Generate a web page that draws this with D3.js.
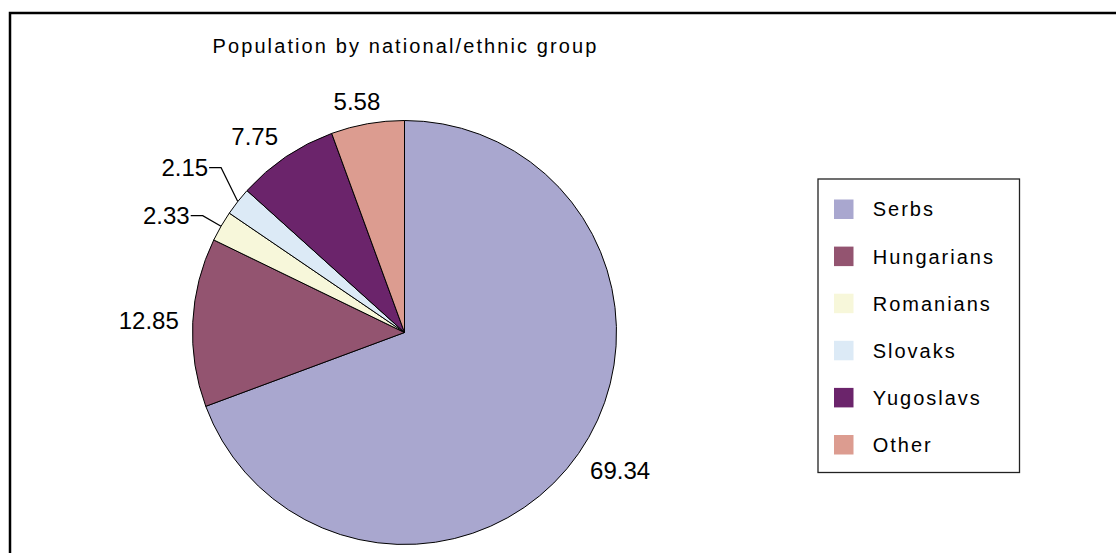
<!DOCTYPE html>
<html>
<head>
<meta charset="utf-8">
<script src="https://cdn.jsdelivr.net/npm/d3@7"></script>
<style>
  body { margin: 0; background: #fff; }
  text { font-family: Arial, "Liberation Sans", sans-serif; fill: #000; }
</style>
</head>
<body>
<svg id="chart" width="1116" height="553"></svg>
<script>
// Chart data
const title = "Population by national/ethnic group";
const groups = ["Serbs", "Hungarians", "Romanians", "Slovaks", "Yugoslavs", "Other"];
const shares = [69.34, 12.85, 2.33, 2.15, 7.75, 5.58];
const colors = ["#a9a7cf", "#935470", "#f7f7da", "#dceaf6", "#6b246b", "#dc9c90"];

const width = 1116;
const height = 553;
const cx = 404.5;
const cy = 332.5;
const radius = 212;

const svg = d3.select("#chart");

// outer frame (runs off the right and bottom of the picture)
svg.append("rect")
  .attr("x", 10).attr("y", 13)
  .attr("width", width + 20).attr("height", height + 20)
  .attr("fill", "none")
  .attr("stroke", "#000")
  .attr("stroke-width", 2.5);

// title, centred over the pie
svg.append("text")
  .attr("x", cx + 1)
  .attr("y", 53)
  .attr("text-anchor", "middle")
  .attr("font-size", 20)
  .attr("letter-spacing", 2.1)
  .text(title);

const data = groups.map((g, i) => ({ name: g, value: shares[i], color: colors[i] }));

const pie = d3.pie().sort(null).value((d) => d.value);
const arcs = pie(data);
const arc = d3.arc().innerRadius(0).outerRadius(radius);

const g = svg.append("g").attr("transform", `translate(${cx},${cy})`);

g.selectAll("path.slice")
  .data(arcs)
  .enter()
  .append("path")
  .attr("class", "slice")
  .attr("d", arc)
  .attr("fill", (d) => d.data.color)
  .attr("stroke", "#000")
  .attr("stroke-width", 1);

// Labels: big slices get an outside-end label, small ones a leader line
const labelSize = 24;
const capH = 17.2;
const gap = 14;
let prevLeaderY = Infinity;

// helper to measure text width
function measure(str) {
  const t = svg.append("text").attr("font-size", labelSize).text(str);
  const w = t.node().getComputedTextLength();
  t.remove();
  return w;
}

arcs.forEach((d) => {
  const mid = (d.startAngle + d.endAngle) / 2;
  const dx = Math.sin(mid);
  const dy = -Math.cos(mid);
  const label = d.data.value.toFixed(2);
  const w = measure(label);

  if (d.data.value < 3) {
    // leader line: arc edge -> elbow -> short horizontal -> text
    const p0 = [dx * radius, dy * radius];
    let ey = dy * radius * 1.1;
    ey = Math.min(ey, prevLeaderY - 48);
    prevLeaderY = ey;
    const ex = dx * radius * 1.1;
    const side = dx < 0 ? -1 : 1;
    const hx = ex + side * 12;
    g.append("polyline")
      .attr("points", [p0, [ex, ey], [hx, ey]].map((p) => p.join(",")).join(" "))
      .attr("fill", "none")
      .attr("stroke", "#000")
      .attr("stroke-width", 1.2);
    g.append("text")
      .attr("x", hx + side * 1)
      .attr("y", ey + capH / 2)
      .attr("text-anchor", side < 0 ? "end" : "start")
      .attr("font-size", labelSize)
      .text(label);
  } else {
    const r = radius + gap;
    const ox = Math.sign(dx) * Math.min(1, Math.abs(dx) * 2) * w / 2;
    const oy = Math.sign(dy) * Math.min(1, Math.abs(dy) * 2) * capH / 2;
    const lx = dx * r + ox;
    const ly = dy * r + oy;
    g.append("text")
      .attr("x", lx)
      .attr("y", ly + capH / 2)
      .attr("text-anchor", "middle")
      .attr("font-size", labelSize)
      .text(label);
  }
});

// Legend
const legend = svg.append("g").attr("transform", "translate(818,179)");
legend.append("rect")
  .attr("width", 201.5).attr("height", 293.5)
  .attr("fill", "#fff")
  .attr("stroke", "#222")
  .attr("stroke-width", 1.3);

const rows = legend.selectAll("g.row")
  .data(data)
  .enter()
  .append("g")
  .attr("class", "row")
  .attr("transform", (d, i) => `translate(16,${20.5 + i * 47.1})`);

rows.append("rect")
  .attr("width", 19.5).attr("height", 19.5)
  .attr("fill", (d) => d.color);

rows.append("text")
  .attr("x", 38.7)
  .attr("y", 9.75 + 7.2)
  .attr("font-size", 20)
  .attr("letter-spacing", 2)
  .text((d) => d.name);
</script>
</body>
</html>
